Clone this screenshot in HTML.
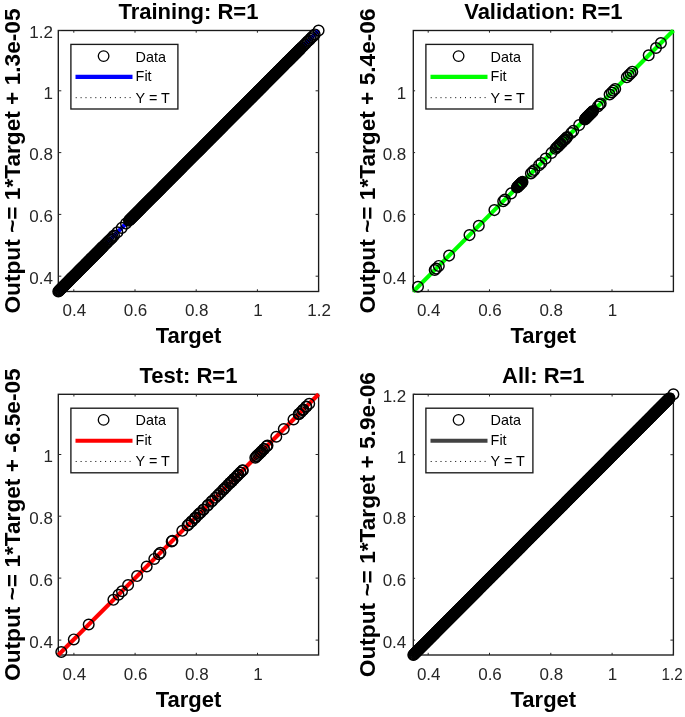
<!DOCTYPE html>
<html><head><meta charset="utf-8"><title>Regression</title>
<style>
html,body{margin:0;padding:0;background:#fff;}
body{width:685px;height:717px;overflow:hidden;}
svg{display:block;font-family:"Liberation Sans",sans-serif;}
.tk{font-size:17px;fill:#262626;}
.lb{font-size:22px;font-weight:bold;fill:#000;}
.lg{font-size:14.4px;fill:#000;}
</style></head><body>
<svg width="685" height="717" viewBox="0 0 685 717">
<rect width="685" height="717" fill="#fff"/>
<g>
<rect x="58.30" y="30.50" width="260.30" height="261.00" fill="#fff" stroke="#1a1a1a" stroke-width="1.35"/>
<path d="M73.80 291.50v-2.2M73.80 30.50v2.2M135.00 291.50v-2.2M135.00 30.50v2.2M196.20 291.50v-2.2M196.20 30.50v2.2M257.40 291.50v-2.2M257.40 30.50v2.2M318.60 291.50v-2.2M318.60 30.50v2.2M58.30 276.20h3.0M318.60 276.20h-3.0M58.30 214.40h3.0M318.60 214.40h-3.0M58.30 152.60h3.0M318.60 152.60h-3.0M58.30 90.80h3.0M318.60 90.80h-3.0M58.30 30.50h3.0M318.60 30.50h-3.0" stroke="#262626" stroke-width="1" fill="none"/>
<text class="tk" x="74.30" y="316.10" text-anchor="middle">0.4</text>
<text class="tk" x="135.50" y="316.10" text-anchor="middle">0.6</text>
<text class="tk" x="196.70" y="316.10" text-anchor="middle">0.8</text>
<text class="tk" x="257.90" y="316.10" text-anchor="middle">1</text>
<text class="tk" x="319.10" y="316.10" text-anchor="middle">1.2</text>
<text class="tk" x="52.90" y="284.00" text-anchor="end">0.4</text>
<text class="tk" x="52.90" y="222.20" text-anchor="end">0.6</text>
<text class="tk" x="52.90" y="160.40" text-anchor="end">0.8</text>
<text class="tk" x="52.90" y="98.60" text-anchor="end">1</text>
<text class="tk" x="52.90" y="38.30" text-anchor="end">1.2</text>
<text class="lb" x="188.45" y="19.30" text-anchor="middle">Training: R=1</text>
<text class="lb" x="188.45" y="343.20" text-anchor="middle">Target</text>
<text class="lb yl" transform="translate(19.70 161.00) rotate(-90) scale(1.031 1)" text-anchor="middle">Output ~= 1*Target + 1.3e-05</text>
<line x1="58.30" y1="291.50" x2="318.60" y2="30.50" stroke="#000" stroke-width="1" stroke-dasharray="1 3"/>
<line x1="58.30" y1="291.50" x2="318.60" y2="30.50" stroke="#0000ff" stroke-width="4.1"/>
<g fill="none" stroke="#000" stroke-width="1.45"><circle cx="58.3" cy="291.5" r="5.3"/><circle cx="58.9" cy="290.9" r="5.3"/><circle cx="59.5" cy="290.3" r="5.3"/><circle cx="60.1" cy="289.7" r="5.3"/><circle cx="60.7" cy="289.1" r="5.3"/><circle cx="61.3" cy="288.5" r="5.3"/><circle cx="61.9" cy="287.9" r="5.3"/><circle cx="62.5" cy="287.2" r="5.3"/><circle cx="63.1" cy="286.6" r="5.3"/><circle cx="63.8" cy="286.0" r="5.3"/><circle cx="64.4" cy="285.4" r="5.3"/><circle cx="65.0" cy="284.8" r="5.3"/><circle cx="65.6" cy="284.2" r="5.3"/><circle cx="66.2" cy="283.6" r="5.3"/><circle cx="66.8" cy="283.0" r="5.3"/><circle cx="67.4" cy="282.4" r="5.3"/><circle cx="68.0" cy="281.8" r="5.3"/><circle cx="68.6" cy="281.2" r="5.3"/><circle cx="69.2" cy="280.6" r="5.3"/><circle cx="69.8" cy="280.0" r="5.3"/><circle cx="70.4" cy="279.3" r="5.3"/><circle cx="71.0" cy="278.7" r="5.3"/><circle cx="71.6" cy="278.1" r="5.3"/><circle cx="72.2" cy="277.5" r="5.3"/><circle cx="72.8" cy="276.9" r="5.3"/><circle cx="73.5" cy="276.3" r="5.3"/><circle cx="74.1" cy="275.7" r="5.3"/><circle cx="74.7" cy="275.1" r="5.3"/><circle cx="75.3" cy="274.5" r="5.3"/><circle cx="75.9" cy="273.9" r="5.3"/><circle cx="76.5" cy="273.3" r="5.3"/><circle cx="77.1" cy="272.7" r="5.3"/><circle cx="77.7" cy="272.1" r="5.3"/><circle cx="78.3" cy="271.4" r="5.3"/><circle cx="78.9" cy="270.8" r="5.3"/><circle cx="79.5" cy="270.2" r="5.3"/><circle cx="80.1" cy="269.6" r="5.3"/><circle cx="80.7" cy="269.0" r="5.3"/><circle cx="81.3" cy="268.4" r="5.3"/><circle cx="81.9" cy="267.8" r="5.3"/><circle cx="82.5" cy="267.2" r="5.3"/><circle cx="83.2" cy="266.6" r="5.3"/><circle cx="83.8" cy="266.0" r="5.3"/><circle cx="84.4" cy="265.4" r="5.3"/><circle cx="85.0" cy="264.8" r="5.3"/><circle cx="85.6" cy="264.1" r="5.3"/><circle cx="86.2" cy="263.5" r="5.3"/><circle cx="86.8" cy="262.9" r="5.3"/><circle cx="87.4" cy="262.3" r="5.3"/><circle cx="88.0" cy="261.7" r="5.3"/><circle cx="88.6" cy="261.1" r="5.3"/><circle cx="89.2" cy="260.5" r="5.3"/><circle cx="89.8" cy="259.9" r="5.3"/><circle cx="90.4" cy="259.3" r="5.3"/><circle cx="91.0" cy="258.7" r="5.3"/><circle cx="91.6" cy="258.1" r="5.3"/><circle cx="92.2" cy="257.5" r="5.3"/><circle cx="92.9" cy="256.9" r="5.3"/><circle cx="93.5" cy="256.2" r="5.3"/><circle cx="94.1" cy="255.6" r="5.3"/><circle cx="94.7" cy="255.0" r="5.3"/><circle cx="95.3" cy="254.4" r="5.3"/><circle cx="95.9" cy="253.8" r="5.3"/><circle cx="96.5" cy="253.2" r="5.3"/><circle cx="97.1" cy="252.6" r="5.3"/><circle cx="97.7" cy="252.0" r="5.3"/><circle cx="98.3" cy="251.4" r="5.3"/><circle cx="98.9" cy="250.8" r="5.3"/><circle cx="99.5" cy="250.2" r="5.3"/><circle cx="100.1" cy="249.6" r="5.3"/><circle cx="100.7" cy="249.0" r="5.3"/><circle cx="101.3" cy="248.3" r="5.3"/><circle cx="101.9" cy="247.7" r="5.3"/><circle cx="102.6" cy="247.1" r="5.3"/><circle cx="102.6" cy="247.1" r="5.3"/><circle cx="103.8" cy="245.9" r="5.3"/><circle cx="105.1" cy="244.6" r="5.3"/><circle cx="106.4" cy="243.3" r="5.3"/><circle cx="107.6" cy="242.0" r="5.3"/><circle cx="108.9" cy="240.8" r="5.3"/><circle cx="110.2" cy="239.5" r="5.3"/><circle cx="111.5" cy="238.2" r="5.3"/><circle cx="112.7" cy="236.9" r="5.3"/><circle cx="114.0" cy="235.6" r="5.3"/><circle cx="129.0" cy="220.6" r="5.3"/><circle cx="129.6" cy="220.0" r="5.3"/><circle cx="130.2" cy="219.4" r="5.3"/><circle cx="130.8" cy="218.8" r="5.3"/><circle cx="131.4" cy="218.2" r="5.3"/><circle cx="132.0" cy="217.6" r="5.3"/><circle cx="132.6" cy="217.0" r="5.3"/><circle cx="133.2" cy="216.4" r="5.3"/><circle cx="133.8" cy="215.8" r="5.3"/><circle cx="134.4" cy="215.2" r="5.3"/><circle cx="135.0" cy="214.6" r="5.3"/><circle cx="135.6" cy="214.0" r="5.3"/><circle cx="136.2" cy="213.4" r="5.3"/><circle cx="136.8" cy="212.8" r="5.3"/><circle cx="137.4" cy="212.2" r="5.3"/><circle cx="138.0" cy="211.6" r="5.3"/><circle cx="138.6" cy="211.0" r="5.3"/><circle cx="139.2" cy="210.4" r="5.3"/><circle cx="139.8" cy="209.8" r="5.3"/><circle cx="140.4" cy="209.2" r="5.3"/><circle cx="141.0" cy="208.6" r="5.3"/><circle cx="141.6" cy="208.0" r="5.3"/><circle cx="142.2" cy="207.3" r="5.3"/><circle cx="142.8" cy="206.7" r="5.3"/><circle cx="143.4" cy="206.1" r="5.3"/><circle cx="144.0" cy="205.5" r="5.3"/><circle cx="144.6" cy="204.9" r="5.3"/><circle cx="145.2" cy="204.3" r="5.3"/><circle cx="145.8" cy="203.7" r="5.3"/><circle cx="146.4" cy="203.1" r="5.3"/><circle cx="147.0" cy="202.5" r="5.3"/><circle cx="147.6" cy="201.9" r="5.3"/><circle cx="148.2" cy="201.3" r="5.3"/><circle cx="148.8" cy="200.7" r="5.3"/><circle cx="149.4" cy="200.1" r="5.3"/><circle cx="150.0" cy="199.5" r="5.3"/><circle cx="150.6" cy="198.9" r="5.3"/><circle cx="151.2" cy="198.3" r="5.3"/><circle cx="151.8" cy="197.7" r="5.3"/><circle cx="152.4" cy="197.1" r="5.3"/><circle cx="153.1" cy="196.5" r="5.3"/><circle cx="153.7" cy="195.9" r="5.3"/><circle cx="154.3" cy="195.3" r="5.3"/><circle cx="154.9" cy="194.7" r="5.3"/><circle cx="155.5" cy="194.1" r="5.3"/><circle cx="156.1" cy="193.5" r="5.3"/><circle cx="156.7" cy="192.9" r="5.3"/><circle cx="157.3" cy="192.3" r="5.3"/><circle cx="157.9" cy="191.7" r="5.3"/><circle cx="158.5" cy="191.1" r="5.3"/><circle cx="159.1" cy="190.5" r="5.3"/><circle cx="159.7" cy="189.9" r="5.3"/><circle cx="160.3" cy="189.3" r="5.3"/><circle cx="160.9" cy="188.7" r="5.3"/><circle cx="161.5" cy="188.1" r="5.3"/><circle cx="162.1" cy="187.4" r="5.3"/><circle cx="162.7" cy="186.8" r="5.3"/><circle cx="163.3" cy="186.2" r="5.3"/><circle cx="163.9" cy="185.6" r="5.3"/><circle cx="164.5" cy="185.0" r="5.3"/><circle cx="165.1" cy="184.4" r="5.3"/><circle cx="165.7" cy="183.8" r="5.3"/><circle cx="166.3" cy="183.2" r="5.3"/><circle cx="166.9" cy="182.6" r="5.3"/><circle cx="167.5" cy="182.0" r="5.3"/><circle cx="168.1" cy="181.4" r="5.3"/><circle cx="168.7" cy="180.8" r="5.3"/><circle cx="169.3" cy="180.2" r="5.3"/><circle cx="169.9" cy="179.6" r="5.3"/><circle cx="170.5" cy="179.0" r="5.3"/><circle cx="171.1" cy="178.4" r="5.3"/><circle cx="171.7" cy="177.8" r="5.3"/><circle cx="172.3" cy="177.2" r="5.3"/><circle cx="172.9" cy="176.6" r="5.3"/><circle cx="173.5" cy="176.0" r="5.3"/><circle cx="174.1" cy="175.4" r="5.3"/><circle cx="174.7" cy="174.8" r="5.3"/><circle cx="175.3" cy="174.2" r="5.3"/><circle cx="175.9" cy="173.6" r="5.3"/><circle cx="176.5" cy="173.0" r="5.3"/><circle cx="177.1" cy="172.4" r="5.3"/><circle cx="177.7" cy="171.8" r="5.3"/><circle cx="178.3" cy="171.2" r="5.3"/><circle cx="178.9" cy="170.6" r="5.3"/><circle cx="179.5" cy="170.0" r="5.3"/><circle cx="180.1" cy="169.4" r="5.3"/><circle cx="180.7" cy="168.8" r="5.3"/><circle cx="181.3" cy="168.2" r="5.3"/><circle cx="181.9" cy="167.6" r="5.3"/><circle cx="182.5" cy="166.9" r="5.3"/><circle cx="183.1" cy="166.3" r="5.3"/><circle cx="183.7" cy="165.7" r="5.3"/><circle cx="184.3" cy="165.1" r="5.3"/><circle cx="184.9" cy="164.5" r="5.3"/><circle cx="185.5" cy="163.9" r="5.3"/><circle cx="186.1" cy="163.3" r="5.3"/><circle cx="186.7" cy="162.7" r="5.3"/><circle cx="187.3" cy="162.1" r="5.3"/><circle cx="187.9" cy="161.5" r="5.3"/><circle cx="188.5" cy="160.9" r="5.3"/><circle cx="189.1" cy="160.3" r="5.3"/><circle cx="189.7" cy="159.7" r="5.3"/><circle cx="190.3" cy="159.1" r="5.3"/><circle cx="190.9" cy="158.5" r="5.3"/><circle cx="191.5" cy="157.9" r="5.3"/><circle cx="192.1" cy="157.3" r="5.3"/><circle cx="192.7" cy="156.7" r="5.3"/><circle cx="193.3" cy="156.1" r="5.3"/><circle cx="193.9" cy="155.5" r="5.3"/><circle cx="194.5" cy="154.9" r="5.3"/><circle cx="195.1" cy="154.3" r="5.3"/><circle cx="195.7" cy="153.7" r="5.3"/><circle cx="196.3" cy="153.1" r="5.3"/><circle cx="196.9" cy="152.5" r="5.3"/><circle cx="197.6" cy="151.9" r="5.3"/><circle cx="198.2" cy="151.3" r="5.3"/><circle cx="198.8" cy="150.7" r="5.3"/><circle cx="199.4" cy="150.1" r="5.3"/><circle cx="200.0" cy="149.5" r="5.3"/><circle cx="200.6" cy="148.9" r="5.3"/><circle cx="201.2" cy="148.3" r="5.3"/><circle cx="201.8" cy="147.7" r="5.3"/><circle cx="202.4" cy="147.1" r="5.3"/><circle cx="203.0" cy="146.4" r="5.3"/><circle cx="203.6" cy="145.8" r="5.3"/><circle cx="204.2" cy="145.2" r="5.3"/><circle cx="204.8" cy="144.6" r="5.3"/><circle cx="205.4" cy="144.0" r="5.3"/><circle cx="206.0" cy="143.4" r="5.3"/><circle cx="206.6" cy="142.8" r="5.3"/><circle cx="207.2" cy="142.2" r="5.3"/><circle cx="207.8" cy="141.6" r="5.3"/><circle cx="208.4" cy="141.0" r="5.3"/><circle cx="209.0" cy="140.4" r="5.3"/><circle cx="209.6" cy="139.8" r="5.3"/><circle cx="210.2" cy="139.2" r="5.3"/><circle cx="210.8" cy="138.6" r="5.3"/><circle cx="211.4" cy="138.0" r="5.3"/><circle cx="212.0" cy="137.4" r="5.3"/><circle cx="212.6" cy="136.8" r="5.3"/><circle cx="213.2" cy="136.2" r="5.3"/><circle cx="213.8" cy="135.6" r="5.3"/><circle cx="214.4" cy="135.0" r="5.3"/><circle cx="215.0" cy="134.4" r="5.3"/><circle cx="215.6" cy="133.8" r="5.3"/><circle cx="216.2" cy="133.2" r="5.3"/><circle cx="216.8" cy="132.6" r="5.3"/><circle cx="217.4" cy="132.0" r="5.3"/><circle cx="218.0" cy="131.4" r="5.3"/><circle cx="218.6" cy="130.8" r="5.3"/><circle cx="219.2" cy="130.2" r="5.3"/><circle cx="219.8" cy="129.6" r="5.3"/><circle cx="220.4" cy="129.0" r="5.3"/><circle cx="221.0" cy="128.4" r="5.3"/><circle cx="221.6" cy="127.8" r="5.3"/><circle cx="222.2" cy="127.2" r="5.3"/><circle cx="222.8" cy="126.6" r="5.3"/><circle cx="223.4" cy="125.9" r="5.3"/><circle cx="224.0" cy="125.3" r="5.3"/><circle cx="224.6" cy="124.7" r="5.3"/><circle cx="225.2" cy="124.1" r="5.3"/><circle cx="225.8" cy="123.5" r="5.3"/><circle cx="226.4" cy="122.9" r="5.3"/><circle cx="227.0" cy="122.3" r="5.3"/><circle cx="227.6" cy="121.7" r="5.3"/><circle cx="228.2" cy="121.1" r="5.3"/><circle cx="228.8" cy="120.5" r="5.3"/><circle cx="229.4" cy="119.9" r="5.3"/><circle cx="230.0" cy="119.3" r="5.3"/><circle cx="230.6" cy="118.7" r="5.3"/><circle cx="231.2" cy="118.1" r="5.3"/><circle cx="231.8" cy="117.5" r="5.3"/><circle cx="232.4" cy="116.9" r="5.3"/><circle cx="233.0" cy="116.3" r="5.3"/><circle cx="233.6" cy="115.7" r="5.3"/><circle cx="234.2" cy="115.1" r="5.3"/><circle cx="234.8" cy="114.5" r="5.3"/><circle cx="235.4" cy="113.9" r="5.3"/><circle cx="236.0" cy="113.3" r="5.3"/><circle cx="236.6" cy="112.7" r="5.3"/><circle cx="237.2" cy="112.1" r="5.3"/><circle cx="237.8" cy="111.5" r="5.3"/><circle cx="238.4" cy="110.9" r="5.3"/><circle cx="239.0" cy="110.3" r="5.3"/><circle cx="239.6" cy="109.7" r="5.3"/><circle cx="240.2" cy="109.1" r="5.3"/><circle cx="240.8" cy="108.5" r="5.3"/><circle cx="241.4" cy="107.9" r="5.3"/><circle cx="242.0" cy="107.3" r="5.3"/><circle cx="242.7" cy="106.7" r="5.3"/><circle cx="243.3" cy="106.1" r="5.3"/><circle cx="243.9" cy="105.4" r="5.3"/><circle cx="244.5" cy="104.8" r="5.3"/><circle cx="245.1" cy="104.2" r="5.3"/><circle cx="245.7" cy="103.6" r="5.3"/><circle cx="246.3" cy="103.0" r="5.3"/><circle cx="246.9" cy="102.4" r="5.3"/><circle cx="247.5" cy="101.8" r="5.3"/><circle cx="248.1" cy="101.2" r="5.3"/><circle cx="248.7" cy="100.6" r="5.3"/><circle cx="249.3" cy="100.0" r="5.3"/><circle cx="249.9" cy="99.4" r="5.3"/><circle cx="250.5" cy="98.8" r="5.3"/><circle cx="251.1" cy="98.2" r="5.3"/><circle cx="251.7" cy="97.6" r="5.3"/><circle cx="252.3" cy="97.0" r="5.3"/><circle cx="252.9" cy="96.4" r="5.3"/><circle cx="253.5" cy="95.8" r="5.3"/><circle cx="254.1" cy="95.2" r="5.3"/><circle cx="254.7" cy="94.6" r="5.3"/><circle cx="255.3" cy="94.0" r="5.3"/><circle cx="255.9" cy="93.4" r="5.3"/><circle cx="256.5" cy="92.8" r="5.3"/><circle cx="257.1" cy="92.2" r="5.3"/><circle cx="257.7" cy="91.6" r="5.3"/><circle cx="258.3" cy="91.0" r="5.3"/><circle cx="258.9" cy="90.4" r="5.3"/><circle cx="259.5" cy="89.8" r="5.3"/><circle cx="260.1" cy="89.2" r="5.3"/><circle cx="260.7" cy="88.6" r="5.3"/><circle cx="261.3" cy="88.0" r="5.3"/><circle cx="261.9" cy="87.4" r="5.3"/><circle cx="262.5" cy="86.8" r="5.3"/><circle cx="263.1" cy="86.2" r="5.3"/><circle cx="263.7" cy="85.6" r="5.3"/><circle cx="264.3" cy="84.9" r="5.3"/><circle cx="264.9" cy="84.3" r="5.3"/><circle cx="265.5" cy="83.7" r="5.3"/><circle cx="266.1" cy="83.1" r="5.3"/><circle cx="266.7" cy="82.5" r="5.3"/><circle cx="267.3" cy="81.9" r="5.3"/><circle cx="267.9" cy="81.3" r="5.3"/><circle cx="268.5" cy="80.7" r="5.3"/><circle cx="269.1" cy="80.1" r="5.3"/><circle cx="269.7" cy="79.5" r="5.3"/><circle cx="270.3" cy="78.9" r="5.3"/><circle cx="270.9" cy="78.3" r="5.3"/><circle cx="271.5" cy="77.7" r="5.3"/><circle cx="272.1" cy="77.1" r="5.3"/><circle cx="272.7" cy="76.5" r="5.3"/><circle cx="273.3" cy="75.9" r="5.3"/><circle cx="273.9" cy="75.3" r="5.3"/><circle cx="274.5" cy="74.7" r="5.3"/><circle cx="275.1" cy="74.1" r="5.3"/><circle cx="275.7" cy="73.5" r="5.3"/><circle cx="276.3" cy="72.9" r="5.3"/><circle cx="276.9" cy="72.3" r="5.3"/><circle cx="277.5" cy="71.7" r="5.3"/><circle cx="278.1" cy="71.1" r="5.3"/><circle cx="278.7" cy="70.5" r="5.3"/><circle cx="279.3" cy="69.9" r="5.3"/><circle cx="279.9" cy="69.3" r="5.3"/><circle cx="280.5" cy="68.7" r="5.3"/><circle cx="281.1" cy="68.1" r="5.3"/><circle cx="281.7" cy="67.5" r="5.3"/><circle cx="282.3" cy="66.9" r="5.3"/><circle cx="282.9" cy="66.3" r="5.3"/><circle cx="283.5" cy="65.7" r="5.3"/><circle cx="284.1" cy="65.0" r="5.3"/><circle cx="284.7" cy="64.4" r="5.3"/><circle cx="285.3" cy="63.8" r="5.3"/><circle cx="285.9" cy="63.2" r="5.3"/><circle cx="286.5" cy="62.6" r="5.3"/><circle cx="287.1" cy="62.0" r="5.3"/><circle cx="287.8" cy="61.4" r="5.3"/><circle cx="288.4" cy="60.8" r="5.3"/><circle cx="289.0" cy="60.2" r="5.3"/><circle cx="289.6" cy="59.6" r="5.3"/><circle cx="290.2" cy="59.0" r="5.3"/><circle cx="290.8" cy="58.4" r="5.3"/><circle cx="291.4" cy="57.8" r="5.3"/><circle cx="292.0" cy="57.2" r="5.3"/><circle cx="292.6" cy="56.6" r="5.3"/><circle cx="293.2" cy="56.0" r="5.3"/><circle cx="293.8" cy="55.4" r="5.3"/><circle cx="294.4" cy="54.8" r="5.3"/><circle cx="295.0" cy="54.2" r="5.3"/><circle cx="295.6" cy="53.6" r="5.3"/><circle cx="296.2" cy="53.0" r="5.3"/><circle cx="296.8" cy="52.4" r="5.3"/><circle cx="297.4" cy="51.8" r="5.3"/><circle cx="298.0" cy="51.2" r="5.3"/><circle cx="298.6" cy="50.6" r="5.3"/><circle cx="299.2" cy="50.0" r="5.3"/><circle cx="299.8" cy="49.4" r="5.3"/><circle cx="300.4" cy="48.8" r="5.3"/><circle cx="300.4" cy="48.8" r="5.3"/><circle cx="301.8" cy="47.3" r="5.3"/><circle cx="303.2" cy="45.9" r="5.3"/><circle cx="304.7" cy="44.5" r="5.3"/><circle cx="306.1" cy="43.0" r="5.3"/><circle cx="307.5" cy="41.6" r="5.3"/><circle cx="309.0" cy="40.2" r="5.3"/><circle cx="310.4" cy="38.7" r="5.3"/><circle cx="311.8" cy="37.3" r="5.3"/><circle cx="313.3" cy="35.9" r="5.3"/><circle cx="314.7" cy="34.4" r="5.3"/><circle cx="117.4" cy="232.3" r="5.3"/><circle cx="121.7" cy="227.9" r="5.3"/><circle cx="126.0" cy="223.6" r="5.3"/><circle cx="318.6" cy="30.5" r="5.3"/></g>
<rect x="70.90" y="44.40" width="107.0" height="64.6" fill="#fff" stroke="#1a1a1a" stroke-width="1.35"/>
<circle cx="103.60" cy="56.10" r="5.3" fill="none" stroke="#000" stroke-width="1.3"/>
<line x1="75.50" x2="132.50" y1="76.90" y2="76.90" stroke="#0000ff" stroke-width="4.1"/>
<line x1="75.70" x2="133.80" y1="97.70" y2="97.60" stroke="#000" stroke-width="1" stroke-dasharray="1 3.9"/>
<text class="lg" x="135.60" y="61.50">Data</text>
<text class="lg" x="135.60" y="81.40">Fit</text>
<text class="lg" x="135.60" y="102.60">Y = T</text>
</g>
<g>
<rect x="413.30" y="30.50" width="260.10" height="261.00" fill="#fff" stroke="#1a1a1a" stroke-width="1.35"/>
<path d="M428.20 291.50v-2.2M428.20 30.50v2.2M489.47 291.50v-2.2M489.47 30.50v2.2M550.73 291.50v-2.2M550.73 30.50v2.2M612.00 291.50v-2.2M612.00 30.50v2.2M413.30 276.20h1.8M673.40 276.20h-3.0M413.30 214.40h1.8M673.40 214.40h-3.0M413.30 152.60h1.8M673.40 152.60h-3.0M413.30 90.80h1.8M673.40 90.80h-3.0" stroke="#262626" stroke-width="1" fill="none"/>
<text class="tk" x="428.70" y="316.10" text-anchor="middle">0.4</text>
<text class="tk" x="489.97" y="316.10" text-anchor="middle">0.6</text>
<text class="tk" x="551.23" y="316.10" text-anchor="middle">0.8</text>
<text class="tk" x="612.50" y="316.10" text-anchor="middle">1</text>
<text class="tk" x="406.30" y="284.00" text-anchor="end">0.4</text>
<text class="tk" x="406.30" y="222.20" text-anchor="end">0.6</text>
<text class="tk" x="406.30" y="160.40" text-anchor="end">0.8</text>
<text class="tk" x="406.30" y="98.60" text-anchor="end">1</text>
<text class="lb" x="543.35" y="19.30" text-anchor="middle">Validation: R=1</text>
<text class="lb" x="543.35" y="343.20" text-anchor="middle">Target</text>
<text class="lb yl" transform="translate(374.70 161.00) rotate(-90) scale(1.031 1)" text-anchor="middle">Output ~= 1*Target + 5.4e-06</text>
<line x1="413.30" y1="291.50" x2="673.40" y2="30.50" stroke="#000" stroke-width="1" stroke-dasharray="1 3"/>
<line x1="413.30" y1="291.50" x2="673.40" y2="30.50" stroke="#00ff00" stroke-width="4.1"/>
<g fill="none" stroke="#000" stroke-width="1.45"><circle cx="418.0" cy="286.8" r="5.3"/><circle cx="434.7" cy="270.0" r="5.3"/><circle cx="436.1" cy="268.6" r="5.3"/><circle cx="438.8" cy="265.9" r="5.3"/><circle cx="449.1" cy="255.6" r="5.3"/><circle cx="469.5" cy="235.1" r="5.3"/><circle cx="478.8" cy="225.8" r="5.3"/><circle cx="494.4" cy="210.1" r="5.3"/><circle cx="503.2" cy="201.3" r="5.3"/><circle cx="504.9" cy="199.5" r="5.3"/><circle cx="511.1" cy="193.4" r="5.3"/><circle cx="516.9" cy="187.5" r="5.3"/><circle cx="517.5" cy="187.0" r="5.3"/><circle cx="517.6" cy="186.8" r="5.3"/><circle cx="518.3" cy="186.1" r="5.3"/><circle cx="518.9" cy="185.5" r="5.3"/><circle cx="519.0" cy="185.4" r="5.3"/><circle cx="519.7" cy="184.7" r="5.3"/><circle cx="520.1" cy="184.3" r="5.3"/><circle cx="520.4" cy="184.0" r="5.3"/><circle cx="521.1" cy="183.3" r="5.3"/><circle cx="521.8" cy="182.6" r="5.3"/><circle cx="521.8" cy="182.6" r="5.3"/><circle cx="522.5" cy="181.9" r="5.3"/><circle cx="530.9" cy="173.5" r="5.3"/><circle cx="532.6" cy="171.8" r="5.3"/><circle cx="534.4" cy="170.0" r="5.3"/><circle cx="539.0" cy="165.3" r="5.3"/><circle cx="541.4" cy="163.0" r="5.3"/><circle cx="545.7" cy="158.6" r="5.3"/><circle cx="551.5" cy="152.9" r="5.3"/><circle cx="555.5" cy="148.8" r="5.3"/><circle cx="556.7" cy="147.6" r="5.3"/><circle cx="557.9" cy="146.4" r="5.3"/><circle cx="558.1" cy="146.2" r="5.3"/><circle cx="559.5" cy="144.8" r="5.3"/><circle cx="560.2" cy="144.1" r="5.3"/><circle cx="560.9" cy="143.4" r="5.3"/><circle cx="562.3" cy="142.0" r="5.3"/><circle cx="562.5" cy="141.7" r="5.3"/><circle cx="563.7" cy="140.6" r="5.3"/><circle cx="564.9" cy="139.4" r="5.3"/><circle cx="565.1" cy="139.2" r="5.3"/><circle cx="566.5" cy="137.8" r="5.3"/><circle cx="567.2" cy="137.1" r="5.3"/><circle cx="571.3" cy="133.0" r="5.3"/><circle cx="573.3" cy="130.9" r="5.3"/><circle cx="579.2" cy="125.1" r="5.3"/><circle cx="584.8" cy="119.5" r="5.3"/><circle cx="585.5" cy="118.8" r="5.3"/><circle cx="585.6" cy="118.6" r="5.3"/><circle cx="586.2" cy="118.1" r="5.3"/><circle cx="586.8" cy="117.3" r="5.3"/><circle cx="587.3" cy="116.9" r="5.3"/><circle cx="587.5" cy="116.6" r="5.3"/><circle cx="588.2" cy="115.9" r="5.3"/><circle cx="588.9" cy="115.2" r="5.3"/><circle cx="589.1" cy="115.1" r="5.3"/><circle cx="589.6" cy="114.5" r="5.3"/><circle cx="590.3" cy="113.8" r="5.3"/><circle cx="590.8" cy="113.4" r="5.3"/><circle cx="591.0" cy="113.1" r="5.3"/><circle cx="591.7" cy="112.4" r="5.3"/><circle cx="592.4" cy="111.7" r="5.3"/><circle cx="592.6" cy="111.6" r="5.3"/><circle cx="593.1" cy="111.0" r="5.3"/><circle cx="597.8" cy="106.4" r="5.3"/><circle cx="599.6" cy="104.6" r="5.3"/><circle cx="600.7" cy="103.4" r="5.3"/><circle cx="609.6" cy="94.5" r="5.3"/><circle cx="611.7" cy="92.5" r="5.3"/><circle cx="613.4" cy="90.7" r="5.3"/><circle cx="615.2" cy="89.0" r="5.3"/><circle cx="626.8" cy="77.3" r="5.3"/><circle cx="628.8" cy="75.2" r="5.3"/><circle cx="630.6" cy="73.4" r="5.3"/><circle cx="632.3" cy="71.7" r="5.3"/><circle cx="648.7" cy="55.3" r="5.3"/><circle cx="656.0" cy="48.0" r="5.3"/><circle cx="660.9" cy="43.0" r="5.3"/></g>
<rect x="425.90" y="44.40" width="107.0" height="64.6" fill="#fff" stroke="#1a1a1a" stroke-width="1.35"/>
<circle cx="458.60" cy="56.10" r="5.3" fill="none" stroke="#000" stroke-width="1.3"/>
<line x1="430.50" x2="487.50" y1="76.90" y2="76.90" stroke="#00ff00" stroke-width="4.1"/>
<line x1="430.70" x2="488.80" y1="97.70" y2="97.60" stroke="#000" stroke-width="1" stroke-dasharray="1 3.9"/>
<text class="lg" x="490.60" y="61.50">Data</text>
<text class="lg" x="490.60" y="81.40">Fit</text>
<text class="lg" x="490.60" y="102.60">Y = T</text>
</g>
<g>
<rect x="58.30" y="394.30" width="260.30" height="260.70" fill="#fff" stroke="#1a1a1a" stroke-width="1.35"/>
<path d="M73.90 655.00v-2.2M73.90 394.30v2.2M135.10 655.00v-2.2M135.10 394.30v2.2M196.30 655.00v-2.2M196.30 394.30v2.2M257.50 655.00v-2.2M257.50 394.30v2.2M58.30 640.10h3.0M318.60 640.10h-3.0M58.30 578.10h3.0M318.60 578.10h-3.0M58.30 516.20h3.0M318.60 516.20h-3.0M58.30 454.50h3.0M318.60 454.50h-3.0" stroke="#262626" stroke-width="1" fill="none"/>
<text class="tk" x="74.40" y="679.60" text-anchor="middle">0.4</text>
<text class="tk" x="135.60" y="679.60" text-anchor="middle">0.6</text>
<text class="tk" x="196.80" y="679.60" text-anchor="middle">0.8</text>
<text class="tk" x="258.00" y="679.60" text-anchor="middle">1</text>
<text class="tk" x="52.90" y="647.90" text-anchor="end">0.4</text>
<text class="tk" x="52.90" y="585.90" text-anchor="end">0.6</text>
<text class="tk" x="52.90" y="524.00" text-anchor="end">0.8</text>
<text class="tk" x="52.90" y="462.30" text-anchor="end">1</text>
<text class="lb" x="188.45" y="383.10" text-anchor="middle">Test: R=1</text>
<text class="lb" x="188.45" y="706.70" text-anchor="middle">Target</text>
<text class="lb yl" transform="translate(19.70 524.65) rotate(-90) scale(1.031 1)" text-anchor="middle">Output ~= 1*Target + -6.5e-05</text>
<line x1="58.30" y1="655.00" x2="318.60" y2="394.30" stroke="#000" stroke-width="1" stroke-dasharray="1 3"/>
<line x1="58.30" y1="655.00" x2="318.60" y2="394.30" stroke="#ff0000" stroke-width="4.1"/>
<g fill="none" stroke="#000" stroke-width="1.45"><circle cx="61.3" cy="652.0" r="5.3"/><circle cx="73.8" cy="639.4" r="5.3"/><circle cx="88.7" cy="624.5" r="5.3"/><circle cx="113.4" cy="599.8" r="5.3"/><circle cx="118.5" cy="594.7" r="5.3"/><circle cx="122.0" cy="591.2" r="5.3"/><circle cx="128.1" cy="585.1" r="5.3"/><circle cx="137.1" cy="576.1" r="5.3"/><circle cx="146.7" cy="566.5" r="5.3"/><circle cx="154.3" cy="558.9" r="5.3"/><circle cx="158.9" cy="554.2" r="5.3"/><circle cx="160.4" cy="552.7" r="5.3"/><circle cx="171.7" cy="541.4" r="5.3"/><circle cx="172.4" cy="540.7" r="5.3"/><circle cx="182.3" cy="530.8" r="5.3"/><circle cx="187.5" cy="525.6" r="5.3"/><circle cx="189.0" cy="524.1" r="5.3"/><circle cx="191.5" cy="521.6" r="5.3"/><circle cx="191.9" cy="521.2" r="5.3"/><circle cx="194.8" cy="518.3" r="5.3"/><circle cx="195.5" cy="517.6" r="5.3"/><circle cx="198.0" cy="515.0" r="5.3"/><circle cx="199.4" cy="513.6" r="5.3"/><circle cx="200.7" cy="512.4" r="5.3"/><circle cx="203.4" cy="509.7" r="5.3"/><circle cx="203.6" cy="509.4" r="5.3"/><circle cx="207.4" cy="505.7" r="5.3"/><circle cx="208.3" cy="504.8" r="5.3"/><circle cx="211.3" cy="501.7" r="5.3"/><circle cx="212.4" cy="500.7" r="5.3"/><circle cx="215.3" cy="497.7" r="5.3"/><circle cx="217.7" cy="495.4" r="5.3"/><circle cx="219.3" cy="493.8" r="5.3"/><circle cx="221.2" cy="491.9" r="5.3"/><circle cx="223.3" cy="489.8" r="5.3"/><circle cx="224.1" cy="489.0" r="5.3"/><circle cx="225.8" cy="487.2" r="5.3"/><circle cx="227.9" cy="485.1" r="5.3"/><circle cx="229.9" cy="483.1" r="5.3"/><circle cx="230.0" cy="483.0" r="5.3"/><circle cx="231.7" cy="481.4" r="5.3"/><circle cx="232.1" cy="480.9" r="5.3"/><circle cx="234.0" cy="479.0" r="5.3"/><circle cx="234.2" cy="478.8" r="5.3"/><circle cx="236.3" cy="476.7" r="5.3"/><circle cx="237.5" cy="475.5" r="5.3"/><circle cx="238.4" cy="474.6" r="5.3"/><circle cx="240.4" cy="472.6" r="5.3"/><circle cx="240.5" cy="472.5" r="5.3"/><circle cx="242.6" cy="470.4" r="5.3"/><circle cx="242.7" cy="470.3" r="5.3"/><circle cx="255.3" cy="457.7" r="5.3"/><circle cx="256.4" cy="456.6" r="5.3"/><circle cx="256.9" cy="456.0" r="5.3"/><circle cx="258.2" cy="454.8" r="5.3"/><circle cx="259.3" cy="453.7" r="5.3"/><circle cx="260.5" cy="452.5" r="5.3"/><circle cx="261.1" cy="451.9" r="5.3"/><circle cx="262.2" cy="450.8" r="5.3"/><circle cx="264.0" cy="449.0" r="5.3"/><circle cx="264.0" cy="449.0" r="5.3"/><circle cx="266.6" cy="446.3" r="5.3"/><circle cx="267.5" cy="445.5" r="5.3"/><circle cx="276.3" cy="436.7" r="5.3"/><circle cx="283.8" cy="429.1" r="5.3"/><circle cx="293.5" cy="419.5" r="5.3"/><circle cx="298.7" cy="414.2" r="5.3"/><circle cx="299.2" cy="413.7" r="5.3"/><circle cx="301.1" cy="411.9" r="5.3"/><circle cx="302.7" cy="410.2" r="5.3"/><circle cx="303.4" cy="409.5" r="5.3"/><circle cx="306.2" cy="406.7" r="5.3"/><circle cx="306.3" cy="406.6" r="5.3"/><circle cx="309.2" cy="403.7" r="5.3"/></g>
<rect x="70.90" y="408.20" width="107.0" height="64.6" fill="#fff" stroke="#1a1a1a" stroke-width="1.35"/>
<circle cx="103.60" cy="419.90" r="5.3" fill="none" stroke="#000" stroke-width="1.3"/>
<line x1="75.50" x2="132.50" y1="440.70" y2="440.70" stroke="#ff0000" stroke-width="4.1"/>
<line x1="75.70" x2="133.80" y1="461.50" y2="461.40" stroke="#000" stroke-width="1" stroke-dasharray="1 3.9"/>
<text class="lg" x="135.60" y="425.30">Data</text>
<text class="lg" x="135.60" y="445.20">Fit</text>
<text class="lg" x="135.60" y="466.40">Y = T</text>
</g>
<g>
<rect x="413.30" y="394.30" width="260.10" height="260.70" fill="#fff" stroke="#1a1a1a" stroke-width="1.35"/>
<path d="M428.20 655.00v-2.2M428.20 394.30v2.2M489.50 655.00v-2.2M489.50 394.30v2.2M550.80 655.00v-2.2M550.80 394.30v2.2M612.10 655.00v-2.2M612.10 394.30v2.2M673.40 655.00v-2.2M673.40 394.30v2.2M413.30 640.10h1.8M673.40 640.10h-3.0M413.30 578.30h1.8M673.40 578.30h-3.0M413.30 516.50h1.8M673.40 516.50h-3.0M413.30 454.70h1.8M673.40 454.70h-3.0M413.30 394.30h1.8M673.40 394.30h-3.0" stroke="#262626" stroke-width="1" fill="none"/>
<text class="tk" x="428.70" y="679.60" text-anchor="middle">0.4</text>
<text class="tk" x="490.00" y="679.60" text-anchor="middle">0.6</text>
<text class="tk" x="551.30" y="679.60" text-anchor="middle">0.8</text>
<text class="tk" x="612.60" y="679.60" text-anchor="middle">1</text>
<text class="tk" x="661.6" y="679.60" textLength="21.2" lengthAdjust="spacingAndGlyphs">1.2</text>
<text class="tk" x="406.30" y="647.90" text-anchor="end">0.4</text>
<text class="tk" x="406.30" y="586.10" text-anchor="end">0.6</text>
<text class="tk" x="406.30" y="524.30" text-anchor="end">0.8</text>
<text class="tk" x="406.30" y="462.50" text-anchor="end">1</text>
<text class="tk" x="406.30" y="402.10" text-anchor="end">1.2</text>
<text class="lb" x="543.35" y="383.10" text-anchor="middle">All: R=1</text>
<text class="lb" x="543.35" y="706.70" text-anchor="middle">Target</text>
<text class="lb yl" transform="translate(374.70 524.65) rotate(-90) scale(1.031 1)" text-anchor="middle">Output ~= 1*Target + 5.9e-06</text>
<line x1="413.30" y1="655.00" x2="673.40" y2="394.30" stroke="#000" stroke-width="1" stroke-dasharray="1 3"/>
<line x1="413.30" y1="655.00" x2="673.40" y2="394.30" stroke="#424242" stroke-width="4.1"/>
<g fill="none" stroke="#000" stroke-width="1.45"><circle cx="413.3" cy="655.0" r="5.3"/><circle cx="413.9" cy="654.4" r="5.3"/><circle cx="414.5" cy="653.8" r="5.3"/><circle cx="415.1" cy="653.2" r="5.3"/><circle cx="415.7" cy="652.6" r="5.3"/><circle cx="416.3" cy="652.0" r="5.3"/><circle cx="416.9" cy="651.4" r="5.3"/><circle cx="417.5" cy="650.8" r="5.3"/><circle cx="418.1" cy="650.2" r="5.3"/><circle cx="418.7" cy="649.6" r="5.3"/><circle cx="419.3" cy="649.0" r="5.3"/><circle cx="419.9" cy="648.4" r="5.3"/><circle cx="420.5" cy="647.8" r="5.3"/><circle cx="421.1" cy="647.2" r="5.3"/><circle cx="421.7" cy="646.6" r="5.3"/><circle cx="422.3" cy="646.0" r="5.3"/><circle cx="422.9" cy="645.4" r="5.3"/><circle cx="423.5" cy="644.8" r="5.3"/><circle cx="424.1" cy="644.2" r="5.3"/><circle cx="424.7" cy="643.6" r="5.3"/><circle cx="425.3" cy="643.0" r="5.3"/><circle cx="425.9" cy="642.4" r="5.3"/><circle cx="426.5" cy="641.8" r="5.3"/><circle cx="427.1" cy="641.2" r="5.3"/><circle cx="427.7" cy="640.6" r="5.3"/><circle cx="428.3" cy="640.0" r="5.3"/><circle cx="428.9" cy="639.4" r="5.3"/><circle cx="429.5" cy="638.8" r="5.3"/><circle cx="430.1" cy="638.2" r="5.3"/><circle cx="430.7" cy="637.6" r="5.3"/><circle cx="431.3" cy="637.0" r="5.3"/><circle cx="431.9" cy="636.4" r="5.3"/><circle cx="432.5" cy="635.8" r="5.3"/><circle cx="433.1" cy="635.2" r="5.3"/><circle cx="433.7" cy="634.6" r="5.3"/><circle cx="434.3" cy="634.0" r="5.3"/><circle cx="434.9" cy="633.4" r="5.3"/><circle cx="435.5" cy="632.7" r="5.3"/><circle cx="436.1" cy="632.1" r="5.3"/><circle cx="436.7" cy="631.5" r="5.3"/><circle cx="437.3" cy="630.9" r="5.3"/><circle cx="437.9" cy="630.3" r="5.3"/><circle cx="438.5" cy="629.7" r="5.3"/><circle cx="439.1" cy="629.1" r="5.3"/><circle cx="439.7" cy="628.5" r="5.3"/><circle cx="440.3" cy="627.9" r="5.3"/><circle cx="440.9" cy="627.3" r="5.3"/><circle cx="441.5" cy="626.7" r="5.3"/><circle cx="442.1" cy="626.1" r="5.3"/><circle cx="442.7" cy="625.5" r="5.3"/><circle cx="443.3" cy="624.9" r="5.3"/><circle cx="443.9" cy="624.3" r="5.3"/><circle cx="444.5" cy="623.7" r="5.3"/><circle cx="445.1" cy="623.1" r="5.3"/><circle cx="445.7" cy="622.5" r="5.3"/><circle cx="446.3" cy="621.9" r="5.3"/><circle cx="446.9" cy="621.3" r="5.3"/><circle cx="447.5" cy="620.7" r="5.3"/><circle cx="448.1" cy="620.1" r="5.3"/><circle cx="448.7" cy="619.5" r="5.3"/><circle cx="449.3" cy="618.9" r="5.3"/><circle cx="449.9" cy="618.3" r="5.3"/><circle cx="450.5" cy="617.7" r="5.3"/><circle cx="451.1" cy="617.1" r="5.3"/><circle cx="451.7" cy="616.5" r="5.3"/><circle cx="452.3" cy="615.9" r="5.3"/><circle cx="452.9" cy="615.3" r="5.3"/><circle cx="453.5" cy="614.7" r="5.3"/><circle cx="454.1" cy="614.1" r="5.3"/><circle cx="454.7" cy="613.5" r="5.3"/><circle cx="455.3" cy="612.9" r="5.3"/><circle cx="455.9" cy="612.3" r="5.3"/><circle cx="456.5" cy="611.7" r="5.3"/><circle cx="457.1" cy="611.1" r="5.3"/><circle cx="457.7" cy="610.5" r="5.3"/><circle cx="458.3" cy="609.9" r="5.3"/><circle cx="458.9" cy="609.3" r="5.3"/><circle cx="459.5" cy="608.7" r="5.3"/><circle cx="460.1" cy="608.1" r="5.3"/><circle cx="460.7" cy="607.5" r="5.3"/><circle cx="461.3" cy="606.9" r="5.3"/><circle cx="461.9" cy="606.3" r="5.3"/><circle cx="462.5" cy="605.7" r="5.3"/><circle cx="463.1" cy="605.1" r="5.3"/><circle cx="463.7" cy="604.5" r="5.3"/><circle cx="464.3" cy="603.9" r="5.3"/><circle cx="464.9" cy="603.3" r="5.3"/><circle cx="465.5" cy="602.7" r="5.3"/><circle cx="466.1" cy="602.1" r="5.3"/><circle cx="466.7" cy="601.5" r="5.3"/><circle cx="467.3" cy="600.9" r="5.3"/><circle cx="467.9" cy="600.3" r="5.3"/><circle cx="468.5" cy="599.7" r="5.3"/><circle cx="469.1" cy="599.1" r="5.3"/><circle cx="469.7" cy="598.5" r="5.3"/><circle cx="470.3" cy="597.9" r="5.3"/><circle cx="470.9" cy="597.3" r="5.3"/><circle cx="471.5" cy="596.7" r="5.3"/><circle cx="472.1" cy="596.1" r="5.3"/><circle cx="472.7" cy="595.5" r="5.3"/><circle cx="473.3" cy="594.9" r="5.3"/><circle cx="473.9" cy="594.3" r="5.3"/><circle cx="474.5" cy="593.7" r="5.3"/><circle cx="475.1" cy="593.1" r="5.3"/><circle cx="475.7" cy="592.5" r="5.3"/><circle cx="476.3" cy="591.9" r="5.3"/><circle cx="476.9" cy="591.3" r="5.3"/><circle cx="477.5" cy="590.7" r="5.3"/><circle cx="478.1" cy="590.1" r="5.3"/><circle cx="478.7" cy="589.4" r="5.3"/><circle cx="479.3" cy="588.8" r="5.3"/><circle cx="479.9" cy="588.2" r="5.3"/><circle cx="480.5" cy="587.6" r="5.3"/><circle cx="481.1" cy="587.0" r="5.3"/><circle cx="481.7" cy="586.4" r="5.3"/><circle cx="482.3" cy="585.8" r="5.3"/><circle cx="482.9" cy="585.2" r="5.3"/><circle cx="483.5" cy="584.6" r="5.3"/><circle cx="484.1" cy="584.0" r="5.3"/><circle cx="484.7" cy="583.4" r="5.3"/><circle cx="485.3" cy="582.8" r="5.3"/><circle cx="485.9" cy="582.2" r="5.3"/><circle cx="486.5" cy="581.6" r="5.3"/><circle cx="487.1" cy="581.0" r="5.3"/><circle cx="487.7" cy="580.4" r="5.3"/><circle cx="488.3" cy="579.8" r="5.3"/><circle cx="488.9" cy="579.2" r="5.3"/><circle cx="489.5" cy="578.6" r="5.3"/><circle cx="490.1" cy="578.0" r="5.3"/><circle cx="490.7" cy="577.4" r="5.3"/><circle cx="491.3" cy="576.8" r="5.3"/><circle cx="491.9" cy="576.2" r="5.3"/><circle cx="492.5" cy="575.6" r="5.3"/><circle cx="493.1" cy="575.0" r="5.3"/><circle cx="493.7" cy="574.4" r="5.3"/><circle cx="494.3" cy="573.8" r="5.3"/><circle cx="494.9" cy="573.2" r="5.3"/><circle cx="495.5" cy="572.6" r="5.3"/><circle cx="496.1" cy="572.0" r="5.3"/><circle cx="496.7" cy="571.4" r="5.3"/><circle cx="497.3" cy="570.8" r="5.3"/><circle cx="497.9" cy="570.2" r="5.3"/><circle cx="498.5" cy="569.6" r="5.3"/><circle cx="499.1" cy="569.0" r="5.3"/><circle cx="499.7" cy="568.4" r="5.3"/><circle cx="500.3" cy="567.8" r="5.3"/><circle cx="500.9" cy="567.2" r="5.3"/><circle cx="501.5" cy="566.6" r="5.3"/><circle cx="502.1" cy="566.0" r="5.3"/><circle cx="502.7" cy="565.4" r="5.3"/><circle cx="503.3" cy="564.8" r="5.3"/><circle cx="503.9" cy="564.2" r="5.3"/><circle cx="504.5" cy="563.6" r="5.3"/><circle cx="505.1" cy="563.0" r="5.3"/><circle cx="505.7" cy="562.4" r="5.3"/><circle cx="506.3" cy="561.8" r="5.3"/><circle cx="506.9" cy="561.2" r="5.3"/><circle cx="507.5" cy="560.6" r="5.3"/><circle cx="508.1" cy="560.0" r="5.3"/><circle cx="508.7" cy="559.4" r="5.3"/><circle cx="509.3" cy="558.8" r="5.3"/><circle cx="509.9" cy="558.2" r="5.3"/><circle cx="510.5" cy="557.6" r="5.3"/><circle cx="511.1" cy="557.0" r="5.3"/><circle cx="511.7" cy="556.4" r="5.3"/><circle cx="512.3" cy="555.8" r="5.3"/><circle cx="512.9" cy="555.2" r="5.3"/><circle cx="513.5" cy="554.6" r="5.3"/><circle cx="514.1" cy="554.0" r="5.3"/><circle cx="514.7" cy="553.4" r="5.3"/><circle cx="515.3" cy="552.8" r="5.3"/><circle cx="515.9" cy="552.2" r="5.3"/><circle cx="516.5" cy="551.6" r="5.3"/><circle cx="517.1" cy="551.0" r="5.3"/><circle cx="517.7" cy="550.4" r="5.3"/><circle cx="518.3" cy="549.8" r="5.3"/><circle cx="518.9" cy="549.2" r="5.3"/><circle cx="519.5" cy="548.6" r="5.3"/><circle cx="520.1" cy="548.0" r="5.3"/><circle cx="520.7" cy="547.4" r="5.3"/><circle cx="521.3" cy="546.8" r="5.3"/><circle cx="521.9" cy="546.2" r="5.3"/><circle cx="522.5" cy="545.5" r="5.3"/><circle cx="523.1" cy="544.9" r="5.3"/><circle cx="523.7" cy="544.3" r="5.3"/><circle cx="524.3" cy="543.7" r="5.3"/><circle cx="524.9" cy="543.1" r="5.3"/><circle cx="525.5" cy="542.5" r="5.3"/><circle cx="526.1" cy="541.9" r="5.3"/><circle cx="526.7" cy="541.3" r="5.3"/><circle cx="527.3" cy="540.7" r="5.3"/><circle cx="527.9" cy="540.1" r="5.3"/><circle cx="528.5" cy="539.5" r="5.3"/><circle cx="529.1" cy="538.9" r="5.3"/><circle cx="529.7" cy="538.3" r="5.3"/><circle cx="530.3" cy="537.7" r="5.3"/><circle cx="530.9" cy="537.1" r="5.3"/><circle cx="531.5" cy="536.5" r="5.3"/><circle cx="532.1" cy="535.9" r="5.3"/><circle cx="532.7" cy="535.3" r="5.3"/><circle cx="533.3" cy="534.7" r="5.3"/><circle cx="533.9" cy="534.1" r="5.3"/><circle cx="534.5" cy="533.5" r="5.3"/><circle cx="535.1" cy="532.9" r="5.3"/><circle cx="535.7" cy="532.3" r="5.3"/><circle cx="536.3" cy="531.7" r="5.3"/><circle cx="536.9" cy="531.1" r="5.3"/><circle cx="537.5" cy="530.5" r="5.3"/><circle cx="538.1" cy="529.9" r="5.3"/><circle cx="538.7" cy="529.3" r="5.3"/><circle cx="539.3" cy="528.7" r="5.3"/><circle cx="539.9" cy="528.1" r="5.3"/><circle cx="540.5" cy="527.5" r="5.3"/><circle cx="541.1" cy="526.9" r="5.3"/><circle cx="541.7" cy="526.3" r="5.3"/><circle cx="542.3" cy="525.7" r="5.3"/><circle cx="542.9" cy="525.1" r="5.3"/><circle cx="543.5" cy="524.5" r="5.3"/><circle cx="544.1" cy="523.9" r="5.3"/><circle cx="544.7" cy="523.3" r="5.3"/><circle cx="545.3" cy="522.7" r="5.3"/><circle cx="545.9" cy="522.1" r="5.3"/><circle cx="546.5" cy="521.5" r="5.3"/><circle cx="547.1" cy="520.9" r="5.3"/><circle cx="547.7" cy="520.3" r="5.3"/><circle cx="548.3" cy="519.7" r="5.3"/><circle cx="548.9" cy="519.1" r="5.3"/><circle cx="549.5" cy="518.5" r="5.3"/><circle cx="550.1" cy="517.9" r="5.3"/><circle cx="550.7" cy="517.3" r="5.3"/><circle cx="551.3" cy="516.7" r="5.3"/><circle cx="551.9" cy="516.1" r="5.3"/><circle cx="552.5" cy="515.5" r="5.3"/><circle cx="553.1" cy="514.9" r="5.3"/><circle cx="553.7" cy="514.3" r="5.3"/><circle cx="554.3" cy="513.7" r="5.3"/><circle cx="554.9" cy="513.1" r="5.3"/><circle cx="555.5" cy="512.5" r="5.3"/><circle cx="556.1" cy="511.9" r="5.3"/><circle cx="556.7" cy="511.3" r="5.3"/><circle cx="557.3" cy="510.7" r="5.3"/><circle cx="557.9" cy="510.1" r="5.3"/><circle cx="558.5" cy="509.5" r="5.3"/><circle cx="559.1" cy="508.9" r="5.3"/><circle cx="559.7" cy="508.3" r="5.3"/><circle cx="560.3" cy="507.7" r="5.3"/><circle cx="560.9" cy="507.1" r="5.3"/><circle cx="561.5" cy="506.5" r="5.3"/><circle cx="562.1" cy="505.9" r="5.3"/><circle cx="562.7" cy="505.3" r="5.3"/><circle cx="563.3" cy="504.7" r="5.3"/><circle cx="563.9" cy="504.1" r="5.3"/><circle cx="564.5" cy="503.5" r="5.3"/><circle cx="565.1" cy="502.9" r="5.3"/><circle cx="565.7" cy="502.2" r="5.3"/><circle cx="566.3" cy="501.6" r="5.3"/><circle cx="566.9" cy="501.0" r="5.3"/><circle cx="567.5" cy="500.4" r="5.3"/><circle cx="568.1" cy="499.8" r="5.3"/><circle cx="568.7" cy="499.2" r="5.3"/><circle cx="569.3" cy="498.6" r="5.3"/><circle cx="569.9" cy="498.0" r="5.3"/><circle cx="570.5" cy="497.4" r="5.3"/><circle cx="571.1" cy="496.8" r="5.3"/><circle cx="571.7" cy="496.2" r="5.3"/><circle cx="572.3" cy="495.6" r="5.3"/><circle cx="572.9" cy="495.0" r="5.3"/><circle cx="573.5" cy="494.4" r="5.3"/><circle cx="574.1" cy="493.8" r="5.3"/><circle cx="574.7" cy="493.2" r="5.3"/><circle cx="575.3" cy="492.6" r="5.3"/><circle cx="575.9" cy="492.0" r="5.3"/><circle cx="576.5" cy="491.4" r="5.3"/><circle cx="577.1" cy="490.8" r="5.3"/><circle cx="577.7" cy="490.2" r="5.3"/><circle cx="578.3" cy="489.6" r="5.3"/><circle cx="578.9" cy="489.0" r="5.3"/><circle cx="579.5" cy="488.4" r="5.3"/><circle cx="580.1" cy="487.8" r="5.3"/><circle cx="580.7" cy="487.2" r="5.3"/><circle cx="581.3" cy="486.6" r="5.3"/><circle cx="581.9" cy="486.0" r="5.3"/><circle cx="582.5" cy="485.4" r="5.3"/><circle cx="583.1" cy="484.8" r="5.3"/><circle cx="583.7" cy="484.2" r="5.3"/><circle cx="584.3" cy="483.6" r="5.3"/><circle cx="584.9" cy="483.0" r="5.3"/><circle cx="585.5" cy="482.4" r="5.3"/><circle cx="586.1" cy="481.8" r="5.3"/><circle cx="586.7" cy="481.2" r="5.3"/><circle cx="587.3" cy="480.6" r="5.3"/><circle cx="587.9" cy="480.0" r="5.3"/><circle cx="588.5" cy="479.4" r="5.3"/><circle cx="589.1" cy="478.8" r="5.3"/><circle cx="589.7" cy="478.2" r="5.3"/><circle cx="590.3" cy="477.6" r="5.3"/><circle cx="590.9" cy="477.0" r="5.3"/><circle cx="591.5" cy="476.4" r="5.3"/><circle cx="592.1" cy="475.8" r="5.3"/><circle cx="592.7" cy="475.2" r="5.3"/><circle cx="593.3" cy="474.6" r="5.3"/><circle cx="593.9" cy="474.0" r="5.3"/><circle cx="594.5" cy="473.4" r="5.3"/><circle cx="595.1" cy="472.8" r="5.3"/><circle cx="595.7" cy="472.2" r="5.3"/><circle cx="596.3" cy="471.6" r="5.3"/><circle cx="596.9" cy="471.0" r="5.3"/><circle cx="597.5" cy="470.4" r="5.3"/><circle cx="598.1" cy="469.8" r="5.3"/><circle cx="598.7" cy="469.2" r="5.3"/><circle cx="599.3" cy="468.6" r="5.3"/><circle cx="599.9" cy="468.0" r="5.3"/><circle cx="600.5" cy="467.4" r="5.3"/><circle cx="601.1" cy="466.8" r="5.3"/><circle cx="601.7" cy="466.2" r="5.3"/><circle cx="602.3" cy="465.6" r="5.3"/><circle cx="602.9" cy="465.0" r="5.3"/><circle cx="603.5" cy="464.4" r="5.3"/><circle cx="604.1" cy="463.8" r="5.3"/><circle cx="604.7" cy="463.2" r="5.3"/><circle cx="605.3" cy="462.6" r="5.3"/><circle cx="605.9" cy="462.0" r="5.3"/><circle cx="606.5" cy="461.4" r="5.3"/><circle cx="607.1" cy="460.8" r="5.3"/><circle cx="607.7" cy="460.2" r="5.3"/><circle cx="608.3" cy="459.6" r="5.3"/><circle cx="608.9" cy="458.9" r="5.3"/><circle cx="609.5" cy="458.3" r="5.3"/><circle cx="610.1" cy="457.7" r="5.3"/><circle cx="610.7" cy="457.1" r="5.3"/><circle cx="611.3" cy="456.5" r="5.3"/><circle cx="611.9" cy="455.9" r="5.3"/><circle cx="612.5" cy="455.3" r="5.3"/><circle cx="613.1" cy="454.7" r="5.3"/><circle cx="613.7" cy="454.1" r="5.3"/><circle cx="614.3" cy="453.5" r="5.3"/><circle cx="614.9" cy="452.9" r="5.3"/><circle cx="615.5" cy="452.3" r="5.3"/><circle cx="616.1" cy="451.7" r="5.3"/><circle cx="616.7" cy="451.1" r="5.3"/><circle cx="617.3" cy="450.5" r="5.3"/><circle cx="617.9" cy="449.9" r="5.3"/><circle cx="618.5" cy="449.3" r="5.3"/><circle cx="619.1" cy="448.7" r="5.3"/><circle cx="619.7" cy="448.1" r="5.3"/><circle cx="620.3" cy="447.5" r="5.3"/><circle cx="620.9" cy="446.9" r="5.3"/><circle cx="621.5" cy="446.3" r="5.3"/><circle cx="622.1" cy="445.7" r="5.3"/><circle cx="622.7" cy="445.1" r="5.3"/><circle cx="623.3" cy="444.5" r="5.3"/><circle cx="623.9" cy="443.9" r="5.3"/><circle cx="624.5" cy="443.3" r="5.3"/><circle cx="625.1" cy="442.7" r="5.3"/><circle cx="625.7" cy="442.1" r="5.3"/><circle cx="626.3" cy="441.5" r="5.3"/><circle cx="626.9" cy="440.9" r="5.3"/><circle cx="627.5" cy="440.3" r="5.3"/><circle cx="628.1" cy="439.7" r="5.3"/><circle cx="628.7" cy="439.1" r="5.3"/><circle cx="629.3" cy="438.5" r="5.3"/><circle cx="629.9" cy="437.9" r="5.3"/><circle cx="630.5" cy="437.3" r="5.3"/><circle cx="631.1" cy="436.7" r="5.3"/><circle cx="631.7" cy="436.1" r="5.3"/><circle cx="632.3" cy="435.5" r="5.3"/><circle cx="632.9" cy="434.9" r="5.3"/><circle cx="633.5" cy="434.3" r="5.3"/><circle cx="634.1" cy="433.7" r="5.3"/><circle cx="634.7" cy="433.1" r="5.3"/><circle cx="635.3" cy="432.5" r="5.3"/><circle cx="635.9" cy="431.9" r="5.3"/><circle cx="636.5" cy="431.3" r="5.3"/><circle cx="637.1" cy="430.7" r="5.3"/><circle cx="637.7" cy="430.1" r="5.3"/><circle cx="638.3" cy="429.5" r="5.3"/><circle cx="638.9" cy="428.9" r="5.3"/><circle cx="639.5" cy="428.3" r="5.3"/><circle cx="640.1" cy="427.7" r="5.3"/><circle cx="640.7" cy="427.1" r="5.3"/><circle cx="641.3" cy="426.5" r="5.3"/><circle cx="641.9" cy="425.9" r="5.3"/><circle cx="642.5" cy="425.3" r="5.3"/><circle cx="643.1" cy="424.7" r="5.3"/><circle cx="643.7" cy="424.1" r="5.3"/><circle cx="644.3" cy="423.5" r="5.3"/><circle cx="644.9" cy="422.9" r="5.3"/><circle cx="645.5" cy="422.3" r="5.3"/><circle cx="646.1" cy="421.7" r="5.3"/><circle cx="646.7" cy="421.1" r="5.3"/><circle cx="647.3" cy="420.5" r="5.3"/><circle cx="647.9" cy="419.9" r="5.3"/><circle cx="648.5" cy="419.3" r="5.3"/><circle cx="649.1" cy="418.7" r="5.3"/><circle cx="649.7" cy="418.1" r="5.3"/><circle cx="650.3" cy="417.5" r="5.3"/><circle cx="650.9" cy="416.9" r="5.3"/><circle cx="651.5" cy="416.3" r="5.3"/><circle cx="652.1" cy="415.7" r="5.3"/><circle cx="652.7" cy="415.0" r="5.3"/><circle cx="653.3" cy="414.4" r="5.3"/><circle cx="653.9" cy="413.8" r="5.3"/><circle cx="654.5" cy="413.2" r="5.3"/><circle cx="655.1" cy="412.6" r="5.3"/><circle cx="655.7" cy="412.0" r="5.3"/><circle cx="656.3" cy="411.4" r="5.3"/><circle cx="656.9" cy="410.8" r="5.3"/><circle cx="657.5" cy="410.2" r="5.3"/><circle cx="658.1" cy="409.6" r="5.3"/><circle cx="658.7" cy="409.0" r="5.3"/><circle cx="659.3" cy="408.4" r="5.3"/><circle cx="659.9" cy="407.8" r="5.3"/><circle cx="660.5" cy="407.2" r="5.3"/><circle cx="661.1" cy="406.6" r="5.3"/><circle cx="661.7" cy="406.0" r="5.3"/><circle cx="662.3" cy="405.4" r="5.3"/><circle cx="662.9" cy="404.8" r="5.3"/><circle cx="663.5" cy="404.2" r="5.3"/><circle cx="664.1" cy="403.6" r="5.3"/><circle cx="664.7" cy="403.0" r="5.3"/><circle cx="665.3" cy="402.4" r="5.3"/><circle cx="665.9" cy="401.8" r="5.3"/><circle cx="666.5" cy="401.2" r="5.3"/><circle cx="667.1" cy="400.6" r="5.3"/><circle cx="667.7" cy="400.0" r="5.3"/><circle cx="668.3" cy="399.4" r="5.3"/><circle cx="668.9" cy="398.8" r="5.3"/><circle cx="669.5" cy="398.2" r="5.3"/><circle cx="673.4" cy="394.3" r="5.3"/></g>
<rect x="425.90" y="408.20" width="107.0" height="64.6" fill="#fff" stroke="#1a1a1a" stroke-width="1.35"/>
<circle cx="458.60" cy="419.90" r="5.3" fill="none" stroke="#000" stroke-width="1.3"/>
<line x1="430.50" x2="487.50" y1="440.70" y2="440.70" stroke="#424242" stroke-width="4.1"/>
<line x1="430.70" x2="488.80" y1="461.50" y2="461.40" stroke="#000" stroke-width="1" stroke-dasharray="1 3.9"/>
<text class="lg" x="490.60" y="425.30">Data</text>
<text class="lg" x="490.60" y="445.20">Fit</text>
<text class="lg" x="490.60" y="466.40">Y = T</text>
</g>
</svg>
</body></html>
